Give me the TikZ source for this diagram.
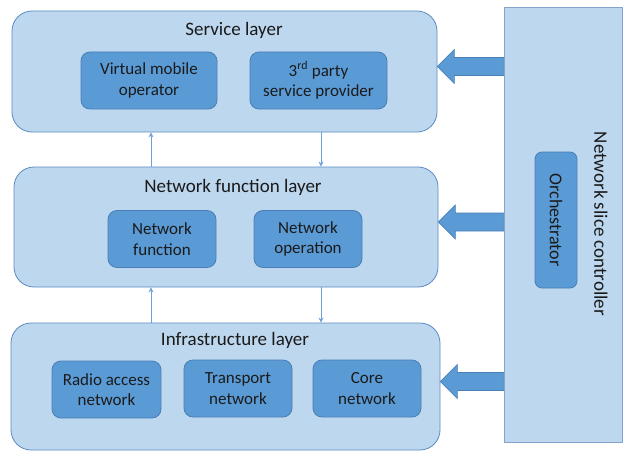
\documentclass[tikz,border=0pt]{standalone}
\usepackage{fontspec}
\setmainfont{Carlito}
\usetikzlibrary{arrows.meta}
\definecolor{layerfill}{HTML}{BDD7EE}
\definecolor{layerline}{HTML}{5B8BC4}
\definecolor{unitfill}{HTML}{5B9BD5}
\definecolor{unitline}{HTML}{4A7EB6}
\definecolor{ctrlline}{HTML}{84A4CB}
\definecolor{linkcol}{HTML}{6FA3D8}
\definecolor{txt}{HTML}{1A1A1A}
\begin{document}
\begin{tikzpicture}[x=1pt,y=-1pt,font=\fontsize{17}{20.5}\selectfont,text=txt,
  layer/.style={draw=layerline,fill=layerfill,rounded corners=20pt,line width=0.8pt},
  title/.style={font=\fontsize{19}{22}\selectfont},
  unit/.style={draw=unitline,fill=unitfill,rounded corners=9pt,align=center,minimum height=57pt,line width=0.8pt},
  link/.style={draw=linkcol,line width=0.9pt,-{Stealth[length=5pt,width=5pt]}},
  bigarrow/.style={draw=unitline,fill=unitfill,line width=0.6pt}]
\useasboundingbox (0,0) rectangle (640,460);
% layers
\node[layer,minimum width=425pt,minimum height=121pt] (svc) at (224.5,71.5) {};
\node[layer,minimum width=424pt,minimum height=120pt] (nfl) at (226,227) {};
\node[layer,minimum width=429pt,minimum height=127pt] (inf) at (225.5,386.5) {};
\node[title] (svct) at (234,30) {Service layer};
\node[title] (nflt) at (233,187) {Network function layer};
\node[title] (inft) at (235,340) {Infrastructure layer};
% units
\foreach \name/\x/\y/\w/\txt in {vmo/149/80.5/136/{Virtual mobile\\operator},
    tpp/318.5/80.5/137/{3\textsuperscript{rd} party\\service provider},
    nf/162/239/108/{Network\\function},nop/308/239/108/{Network\\operation},
    ran/106.5/389.5/109/{Radio access\\network},tn/238/388.5/108/{Transport\\network},
    cn/367/388.5/108/{Core\\network}}
  \node[unit,minimum width=\w pt] (\name) at (\x,\y) {\txt};
% controller
\node[draw=ctrlline,fill=layerfill,line width=0.8pt,minimum width=118pt,minimum height=435pt] (ctrl) at (563,224.5) {};
\node[title,rotate=-90] (ctrlt) at (601,224) {Network slice controller};
\node[unit,rotate=-90,minimum width=136pt,minimum height=42pt,rounded corners=7pt,font=\fontsize{18}{21}\selectfont] (orch) at (556,220) {Orchestrator};
% links between layers
\coordinate (upx) at (151,0);
\coordinate (dnx) at (321,0);
\foreach \hi/\lo in {svc/nfl,nfl/inf} {
  \draw[link] (upx |- \lo.north) -- (upx |- \hi.south);
  \draw[link] (dnx |- \hi.south) -- (dnx |- \lo.north);
}
% block arrows from the controller
\foreach \lay in {svc,nfl,inf} {
  \coordinate (tip) at ([yshift=5pt]\lay.east);
  \coordinate (tail) at (tip -| ctrl.west);
  \draw[bigarrow] (tip) -- ([shift={(17,-17)}]tip) -- ([shift={(17,-9)}]tip) -- ([shift={(0,-9)}]tail)
    -- ([shift={(0,9)}]tail) -- ([shift={(17,9)}]tip) -- ([shift={(17,17)}]tip) -- cycle;
}
\end{tikzpicture}
\end{document}
